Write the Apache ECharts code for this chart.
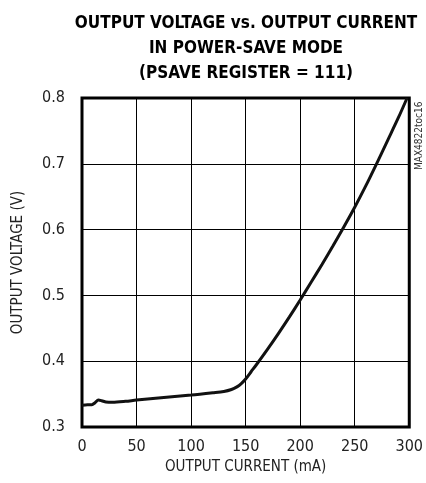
<!DOCTYPE html>
<html><head><meta charset="utf-8">
<script src="https://cdn.jsdelivr.net/npm/echarts@6/dist/echarts.min.js"></script>
<style>html,body{margin:0;padding:0;background:#fff}#c{width:426px;height:483px}</style>
</head><body><div id="c"></div>
<script>
var titleLines = ['OUTPUT VOLTAGE vs. OUTPUT CURRENT', 'IN POWER-SAVE MODE', '(PSAVE REGISTER = 111)'];
var xName = 'OUTPUT CURRENT (mA)';
var yName = 'OUTPUT VOLTAGE (V)';
var watermark = 'MAX4822toc16';
var currentMA = [0, 5, 9, 12, 15, 18, 22, 28, 40, 50, 75, 100, 120, 130, 137, 142, 146, 150, 155, 160, 170, 180, 190, 200, 210, 220, 230, 240, 250, 260, 270, 280, 290, 298];
var voltageV  = [0.333, 0.334, 0.334, 0.337, 0.341, 0.340, 0.338, 0.3375, 0.339, 0.341, 0.345, 0.3485, 0.352, 0.354, 0.357, 0.361, 0.366, 0.373, 0.384, 0.395, 0.418, 0.442, 0.467, 0.493, 0.520, 0.547, 0.575, 0.604, 0.634, 0.666, 0.700, 0.735, 0.770, 0.800];

var font = "'DejaVu Sans Condensed', sans-serif";
var chart = echarts.init(document.getElementById('c'));
chart.setOption({
  animation: false,
  title: {
    text: titleLines.join('\n'),
    left: 241, top: 6, textAlign: 'center',
    textStyle: {fontFamily: font, fontWeight: 'bold', fontSize: 17, lineHeight: 25, color: '#000'}
  },
  grid: {left: 82, right: 16, top: 98, bottom: 56, show: true, borderColor: '#000', borderWidth: 3},
  xAxis: {
    type: 'value', min: 0, max: 300, interval: 50,
    name: xName, nameLocation: 'middle', nameGap: 33,
    nameTextStyle: {fontFamily: font, fontSize: 15, color: '#222'},
    axisLine: {show: false}, axisTick: {show: false},
    axisLabel: {fontFamily: font, fontSize: 16, color: '#222', margin: 12},
    splitLine: {show: true, lineStyle: {color: '#000', width: 1}}
  },
  yAxis: {
    type: 'value', min: 0.3, max: 0.8, interval: 0.1,
    name: yName, nameLocation: 'middle', nameGap: 56, nameRotate: 90,
    nameTextStyle: {fontFamily: font, fontSize: 15, color: '#222'},
    axisLine: {show: false}, axisTick: {show: false},
    axisLabel: {fontFamily: font, fontSize: 16, color: '#222', margin: 17,
      formatter: function (v) { return v.toFixed(1); }},
    splitLine: {show: true, lineStyle: {color: '#000', width: 1}}
  },
  graphic: [{
    type: 'text', x: 414, y: 170, rotation: Math.PI / 2,
    style: {text: watermark, fontFamily: font, fontSize: 10, fill: '#333', textAlign: 'left', textVerticalAlign: 'top'}
  }],
  series: [{
    type: 'line', smooth: 0.3, symbol: 'none',
    data: currentMA.map(function (x, i) { return [x, voltageV[i]]; }),
    lineStyle: {color: '#111', width: 3}
  }]
});
</script></body></html>
